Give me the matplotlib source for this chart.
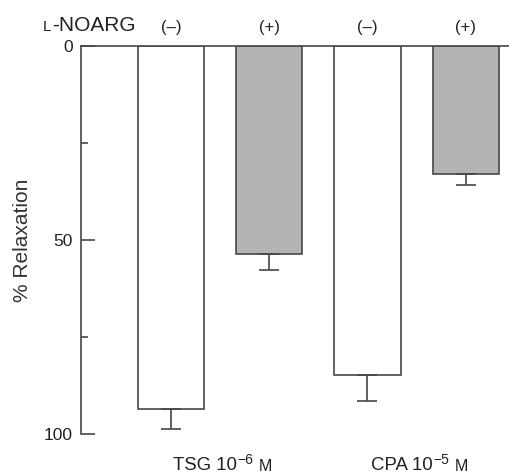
import matplotlib.pyplot as plt
import matplotlib.transforms as mtransforms
import numpy as np

plt.rcParams['font.family'] = ['Liberation Sans', 'DejaVu Sans']

# data
treat = ['(–)', '(+)', '(–)', '(+)']
relax = [93.6, 53.5, 84.9, 32.8]
sem = [5.2, 4.1, 6.5, 2.9]
agents = ['TSG 10', 'CPA 10']
exps = ['−6', '−5']

bar_colors = ['white', '#b4b4b4', 'white', '#b4b4b4']
ink = '#474747'

fig = plt.figure(figsize=(5.09, 4.74), dpi=100)
ax = fig.add_axes([0.159, 0.0844, 0.841, 0.8175])

x = np.arange(len(relax))
ax.bar(x, relax, width=0.675, color=bar_colors, edgecolor=ink, linewidth=1.2,
       yerr=[np.zeros(len(sem)), sem], capsize=7,
       error_kw=dict(ecolor=ink, elinewidth=1.2, capthick=1.2))

ax.set_ylim(100, 0)
ax.set_xlim(-0.915, 3.44)
ax.spines['right'].set_visible(False)
ax.spines['bottom'].set_visible(False)
ax.spines['left'].set_color(ink)
ax.spines['top'].set_color(ink)
ax.spines['left'].set_linewidth(1.2)
ax.spines['top'].set_linewidth(1.2)

ax.set_xticks([])
ax.set_yticks([0, 50, 100])
ax.set_yticks([25, 75], minor=True)
ax.tick_params(axis='y', which='major', direction='in', length=10, width=1.2,
               color=ink, labelsize=12.5, pad=6, labelcolor='#222222')
ax.tick_params(axis='y', which='minor', direction='in', length=5, width=1.2,
               color=ink)
ax.set_ylabel('% Relaxation', fontsize=15, labelpad=8, color='#333333')

trans = mtransforms.blended_transform_factory(ax.transData, ax.transAxes)

# header row
for xi, lab in zip(x, treat):
    ax.text(xi, 1.049, lab, transform=trans, ha='center', va='center',
            fontsize=12, color='#222222')
t_no = ax.text(-0.356, 1.039, '-NOARG', transform=trans, ha='right',
               va='baseline', fontsize=15, color='#222222')
ax.annotate('L', xy=(0, 0), xycoords=t_no, xytext=(-0.5, 0.8),
            textcoords='offset points', ha='right', va='bottom',
            fontsize=11, color='#222222')

# group labels
for gx, name, ex in zip([0.02, 2.04], agents, exps):
    t = ax.text(gx, -0.094, name, transform=trans, ha='left', va='baseline',
                fontsize=13.4, color='#222222')
    te = ax.annotate(ex, xy=(1, 1), xycoords=t, xytext=(0.5, 3.5),
                     textcoords='offset points', ha='left', va='top',
                     fontsize=10, color='#222222')
    ax.annotate('M', xy=(1, 0), xycoords=(te, t), xytext=(3.5, 0.6),
                textcoords='offset points', ha='left', va='bottom',
                fontsize=11.5, color='#222222')

fig.savefig('out.png', dpi=100)
